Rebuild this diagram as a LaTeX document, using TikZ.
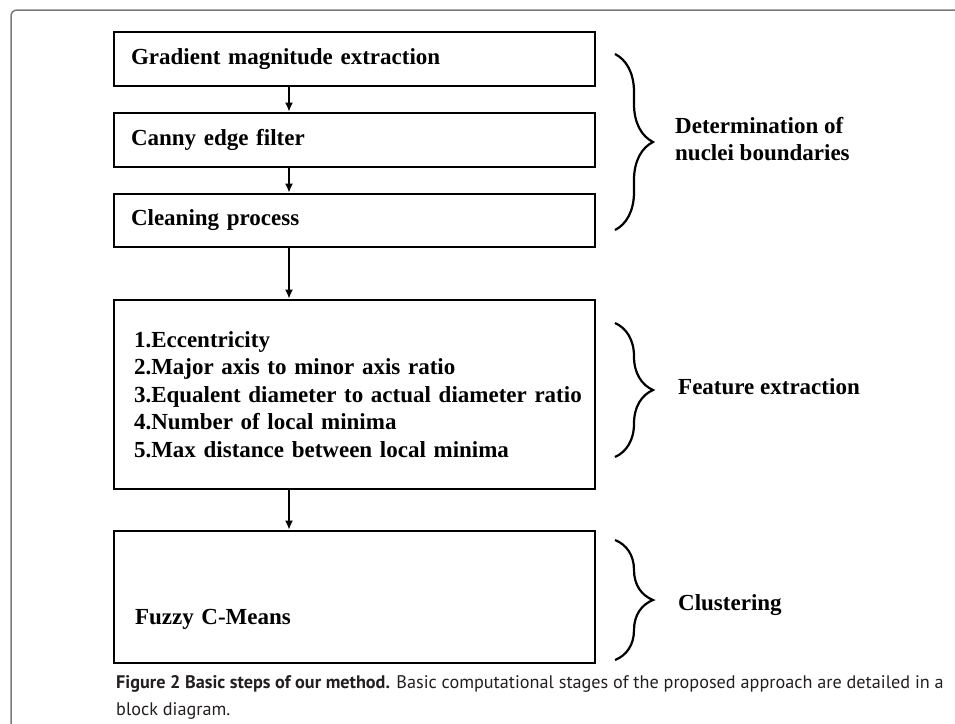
\documentclass[tikz,border=0pt]{standalone}
\usepackage{fontspec}
\setmainfont{Liberation Serif}
\newfontfamily\capfont{PT Sans}
\usetikzlibrary{arrows.meta,decorations.pathreplacing}

\definecolor{FrameGray}{HTML}{7A7A7A}
\definecolor{CapInk}{HTML}{231F20}

\tikzset{
  stepbox/.style={draw, line width=2.6pt, minimum width=481pt, text width=447pt,
    inner xsep=17pt, align=left, font=\bfseries\fontsize{23}{27.5}\selectfont},
  flow/.style={-{Latex[length=9pt,width=8pt]}, line width=2pt},
  stagebrace/.style={decorate, decoration={brace, amplitude=38pt}, line width=2.2pt},
  stagelbl/.style={inner sep=0pt, align=left, font=\bfseries\fontsize{23}{27}\selectfont},
}

\begin{document}
\begin{tikzpicture}[x=1pt, y=-1pt]
		\useasboundingbox (0,0) rectangle (955,723);

		% frame of the figure
		\draw[FrameGray, line width=1.5pt, rounded corners=6pt] (11,740) -- (11,10) -- (970,10);

		% steps
		\node[stepbox, minimum height=54pt] (grad) at (354.5,59) {Gradient magnitude extraction};
		\node[stepbox, minimum height=54pt] (canny) at (354.5,140) {Canny edge filter};
		\node[stepbox, minimum height=53pt] (clean) at (354.5,220.5) {Cleaning process};
		\node[stepbox, minimum height=189pt, inner xsep=20pt, text width=441pt] (feat) at (354.5,394.5) {1.Eccentricity\\
			2.Major axis to minor axis ratio\\
			\mbox{3.Equalent diameter to actual diameter ratio}\\
			4.Number of local minima\\
			5.Max distance between local minima};
		\node[stepbox, minimum height=132pt, text height=55pt, text depth=0pt, inner xsep=21pt, text width=439pt] (fcm) at (354.5,597) {Fuzzy C-Means};

		\coordinate (ax) at (289,0);

		\draw[flow] (grad.south -| ax) -- (canny.north -| ax);
		\draw[flow] (canny.south -| ax) -- (clean.north -| ax);
		\draw[flow] (clean.south -| ax) -- (feat.north -| ax);
		\draw[flow] (feat.south -| ax) -- (fcm.north -| ax);

		% braces
		\draw[stagebrace] (615,54) -- (615,230);
		\draw[stagebrace] (615,323) -- (615,457);
		\draw[stagebrace] (615,540) -- (615,660);

		\node[stagelbl, anchor=west] (lbound) at (675,139) {Determination of\\nuclei boundaries};
		\node[stagelbl, anchor=base west] (lfeat) at (678,394) {Feature extraction};
		\node[stagelbl, anchor=base west] (lclust) at (678,610) {Clustering};

		% caption
		\node[anchor=north west, inner sep=0pt, align=left, text=CapInk,
			font=\capfont\fontsize{18.2}{27}\selectfont] (cap) at (116,675)
			{\textbf{Figure 2 Basic steps of our method.} Basic computational stages of the proposed approach are detailed in a\\
			block diagram.};
	\end{tikzpicture}
\end{document}
